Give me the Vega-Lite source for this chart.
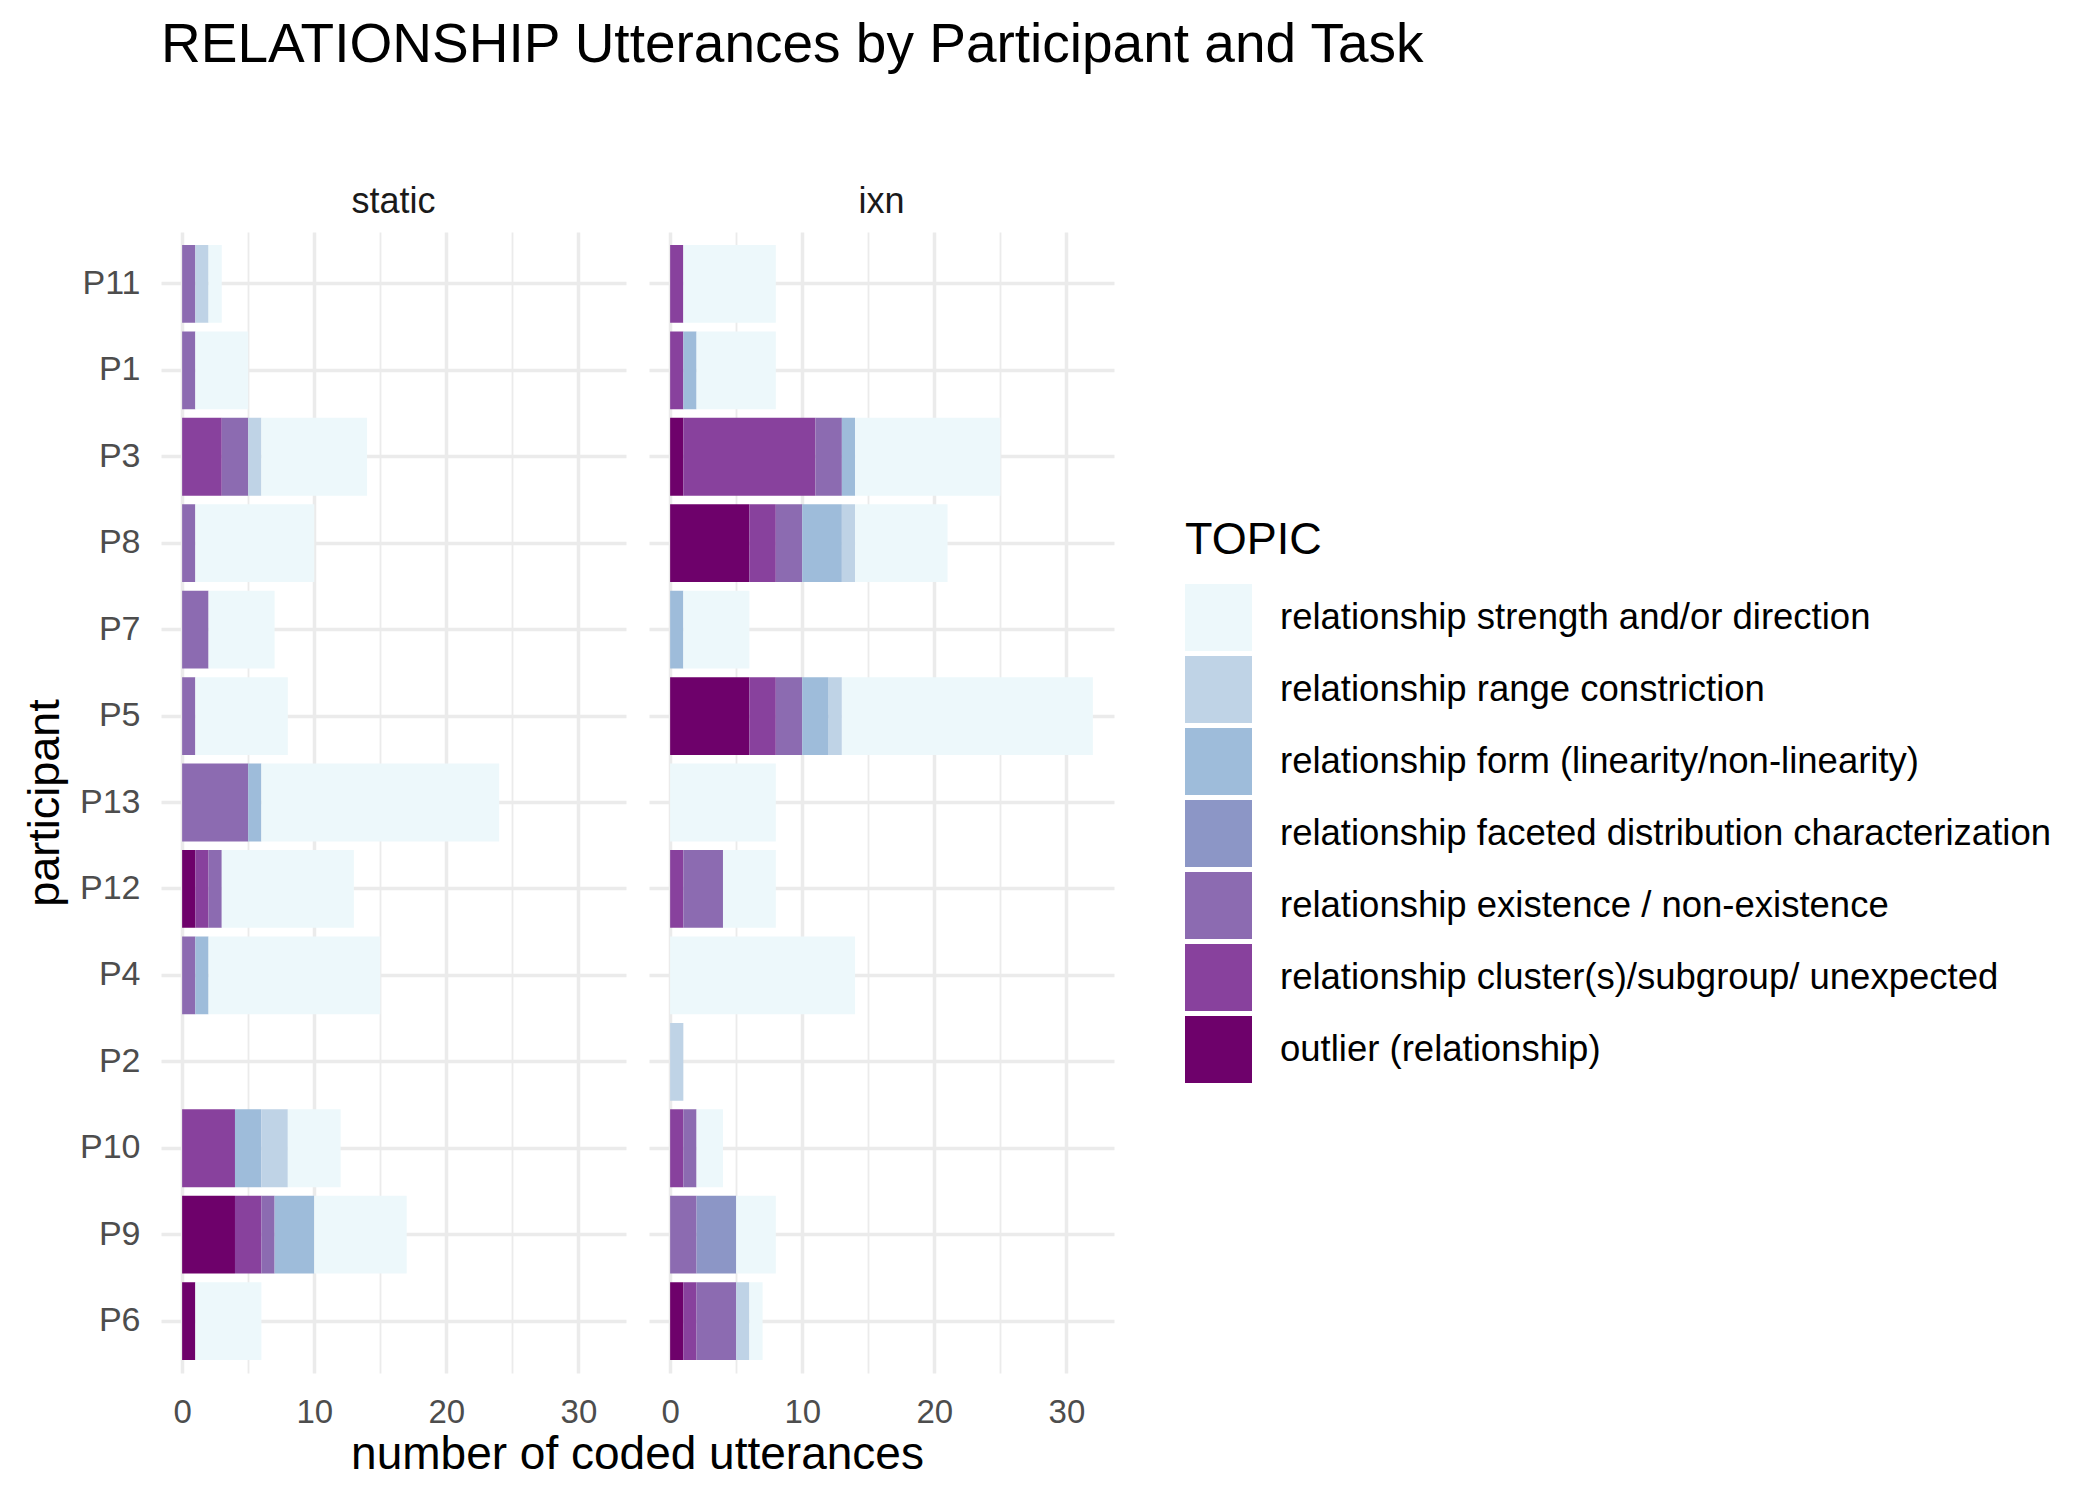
{
  "$schema": "https://vega.github.io/schema/vega-lite/v6.json",
  "background": "white",
  "padding": {"left": 22, "top": 18, "right": 20, "bottom": 20},
  "title": {"text": "RELATIONSHIP Utterances by Participant and Task", "anchor": "start", "frame": "group", "fontSize": 55, "fontWeight": "normal", "font": "Liberation Sans", "color": "black", "offset": 110, "dx": 0},
  "data": {"values": [
    {"p": "P11", "task": "static", "topic": "relationship existence / non-existence", "n": 1},
    {"p": "P11", "task": "static", "topic": "relationship range constriction", "n": 1},
    {"p": "P11", "task": "static", "topic": "relationship strength and/or direction", "n": 1},
    {"p": "P1", "task": "static", "topic": "relationship existence / non-existence", "n": 1},
    {"p": "P1", "task": "static", "topic": "relationship strength and/or direction", "n": 4},
    {"p": "P3", "task": "static", "topic": "relationship cluster(s)/subgroup/ unexpected", "n": 3},
    {"p": "P3", "task": "static", "topic": "relationship existence / non-existence", "n": 2},
    {"p": "P3", "task": "static", "topic": "relationship range constriction", "n": 1},
    {"p": "P3", "task": "static", "topic": "relationship strength and/or direction", "n": 8},
    {"p": "P8", "task": "static", "topic": "relationship existence / non-existence", "n": 1},
    {"p": "P8", "task": "static", "topic": "relationship strength and/or direction", "n": 9},
    {"p": "P7", "task": "static", "topic": "relationship existence / non-existence", "n": 2},
    {"p": "P7", "task": "static", "topic": "relationship strength and/or direction", "n": 5},
    {"p": "P5", "task": "static", "topic": "relationship existence / non-existence", "n": 1},
    {"p": "P5", "task": "static", "topic": "relationship strength and/or direction", "n": 7},
    {"p": "P13", "task": "static", "topic": "relationship existence / non-existence", "n": 5},
    {"p": "P13", "task": "static", "topic": "relationship form (linearity/non-linearity)", "n": 1},
    {"p": "P13", "task": "static", "topic": "relationship strength and/or direction", "n": 18},
    {"p": "P12", "task": "static", "topic": "outlier (relationship)", "n": 1},
    {"p": "P12", "task": "static", "topic": "relationship cluster(s)/subgroup/ unexpected", "n": 1},
    {"p": "P12", "task": "static", "topic": "relationship existence / non-existence", "n": 1},
    {"p": "P12", "task": "static", "topic": "relationship strength and/or direction", "n": 10},
    {"p": "P4", "task": "static", "topic": "relationship existence / non-existence", "n": 1},
    {"p": "P4", "task": "static", "topic": "relationship form (linearity/non-linearity)", "n": 1},
    {"p": "P4", "task": "static", "topic": "relationship strength and/or direction", "n": 13},
    {"p": "P10", "task": "static", "topic": "relationship cluster(s)/subgroup/ unexpected", "n": 4},
    {"p": "P10", "task": "static", "topic": "relationship form (linearity/non-linearity)", "n": 2},
    {"p": "P10", "task": "static", "topic": "relationship range constriction", "n": 2},
    {"p": "P10", "task": "static", "topic": "relationship strength and/or direction", "n": 4},
    {"p": "P9", "task": "static", "topic": "outlier (relationship)", "n": 4},
    {"p": "P9", "task": "static", "topic": "relationship cluster(s)/subgroup/ unexpected", "n": 2},
    {"p": "P9", "task": "static", "topic": "relationship existence / non-existence", "n": 1},
    {"p": "P9", "task": "static", "topic": "relationship form (linearity/non-linearity)", "n": 3},
    {"p": "P9", "task": "static", "topic": "relationship strength and/or direction", "n": 7},
    {"p": "P6", "task": "static", "topic": "outlier (relationship)", "n": 1},
    {"p": "P6", "task": "static", "topic": "relationship strength and/or direction", "n": 5},
    {"p": "P11", "task": "ixn", "topic": "relationship cluster(s)/subgroup/ unexpected", "n": 1},
    {"p": "P11", "task": "ixn", "topic": "relationship strength and/or direction", "n": 7},
    {"p": "P1", "task": "ixn", "topic": "relationship cluster(s)/subgroup/ unexpected", "n": 1},
    {"p": "P1", "task": "ixn", "topic": "relationship form (linearity/non-linearity)", "n": 1},
    {"p": "P1", "task": "ixn", "topic": "relationship strength and/or direction", "n": 6},
    {"p": "P3", "task": "ixn", "topic": "outlier (relationship)", "n": 1},
    {"p": "P3", "task": "ixn", "topic": "relationship cluster(s)/subgroup/ unexpected", "n": 10},
    {"p": "P3", "task": "ixn", "topic": "relationship existence / non-existence", "n": 2},
    {"p": "P3", "task": "ixn", "topic": "relationship form (linearity/non-linearity)", "n": 1},
    {"p": "P3", "task": "ixn", "topic": "relationship strength and/or direction", "n": 11},
    {"p": "P8", "task": "ixn", "topic": "outlier (relationship)", "n": 6},
    {"p": "P8", "task": "ixn", "topic": "relationship cluster(s)/subgroup/ unexpected", "n": 2},
    {"p": "P8", "task": "ixn", "topic": "relationship existence / non-existence", "n": 2},
    {"p": "P8", "task": "ixn", "topic": "relationship form (linearity/non-linearity)", "n": 3},
    {"p": "P8", "task": "ixn", "topic": "relationship range constriction", "n": 1},
    {"p": "P8", "task": "ixn", "topic": "relationship strength and/or direction", "n": 7},
    {"p": "P7", "task": "ixn", "topic": "relationship form (linearity/non-linearity)", "n": 1},
    {"p": "P7", "task": "ixn", "topic": "relationship strength and/or direction", "n": 5},
    {"p": "P5", "task": "ixn", "topic": "outlier (relationship)", "n": 6},
    {"p": "P5", "task": "ixn", "topic": "relationship cluster(s)/subgroup/ unexpected", "n": 2},
    {"p": "P5", "task": "ixn", "topic": "relationship existence / non-existence", "n": 2},
    {"p": "P5", "task": "ixn", "topic": "relationship form (linearity/non-linearity)", "n": 2},
    {"p": "P5", "task": "ixn", "topic": "relationship range constriction", "n": 1},
    {"p": "P5", "task": "ixn", "topic": "relationship strength and/or direction", "n": 19},
    {"p": "P13", "task": "ixn", "topic": "relationship strength and/or direction", "n": 8},
    {"p": "P12", "task": "ixn", "topic": "relationship cluster(s)/subgroup/ unexpected", "n": 1},
    {"p": "P12", "task": "ixn", "topic": "relationship existence / non-existence", "n": 3},
    {"p": "P12", "task": "ixn", "topic": "relationship strength and/or direction", "n": 4},
    {"p": "P4", "task": "ixn", "topic": "relationship strength and/or direction", "n": 14},
    {"p": "P2", "task": "ixn", "topic": "relationship range constriction", "n": 1},
    {"p": "P10", "task": "ixn", "topic": "relationship cluster(s)/subgroup/ unexpected", "n": 1},
    {"p": "P10", "task": "ixn", "topic": "relationship existence / non-existence", "n": 1},
    {"p": "P10", "task": "ixn", "topic": "relationship strength and/or direction", "n": 2},
    {"p": "P9", "task": "ixn", "topic": "relationship existence / non-existence", "n": 2},
    {"p": "P9", "task": "ixn", "topic": "relationship faceted distribution characterization", "n": 3},
    {"p": "P9", "task": "ixn", "topic": "relationship strength and/or direction", "n": 3},
    {"p": "P6", "task": "ixn", "topic": "outlier (relationship)", "n": 1},
    {"p": "P6", "task": "ixn", "topic": "relationship cluster(s)/subgroup/ unexpected", "n": 1},
    {"p": "P6", "task": "ixn", "topic": "relationship existence / non-existence", "n": 3},
    {"p": "P6", "task": "ixn", "topic": "relationship range constriction", "n": 1},
    {"p": "P6", "task": "ixn", "topic": "relationship strength and/or direction", "n": 1}
  ]},
  "bounds": "flush",
  "spacing": 23,
  "resolve": {"scale": {"color": "shared"}},
  "hconcat": [
    {
      "width": 465,
      "height": 1141,
      "title": {"text": "static", "anchor": "middle", "frame": "group", "fontSize": 36, "fontWeight": "normal", "color": "#1A1A1A", "offset": 11},
      "transform": [{"filter": "datum.task === 'static'"}],
      "mark": {"type": "bar"},
      "encoding": {
        "y": {"field": "p", "type": "nominal",
          "scale": {"domain": ["P11","P1","P3","P8","P7","P5","P13","P12","P4","P2","P10","P9","P6"], "paddingInner": 0.1, "paddingOuter": 0.15},
          "axis": {"title": "participant", "titleFontSize": 45, "titlePadding": 12, "labelFontSize": 34, "labelPadding": 21, "grid": true, "bandPosition": 0.5}},
        "x": {"field": "n", "type": "quantitative", "stack": "zero",
          "scale": {"domain": [-1.6, 33.6], "nice": false, "zero": false},
          "axis": {"title": "number of coded utterances", "titleX": 476, "titleY": 95, "titleAlign": "center", "titleBaseline": "alphabetic", "titleFontSize": 46, "values": [0,5,10,15,20,25,30], "labelExpr": "datum.value % 10 === 0 ? datum.label : ''", "labelFontSize": 33, "labelPadding": 23, "gridWidth": {"condition": {"test": "datum.value % 10 === 0", "value": 3.5}, "value": 1.8}}},
        "color": {"field": "topic", "type": "nominal",
          "scale": {"domain": ["relationship strength and/or direction","relationship range constriction","relationship form (linearity/non-linearity)","relationship faceted distribution characterization","relationship existence / non-existence","relationship cluster(s)/subgroup/ unexpected","outlier (relationship)"],
            "range": ["#edf8fb","#bfd3e6","#9ebcda","#8c96c6","#8c6bb1","#88419d","#6e016b"]},
          "legend": {"title": "TOPIC", "orient": "none", "legendX": 1024, "legendY": 286}},
        "order": {"field": "topic", "sort": "ascending"}
      }
    },
    {
      "width": 465,
      "height": 1141,
      "title": {"text": "ixn", "anchor": "middle", "frame": "group", "fontSize": 36, "fontWeight": "normal", "color": "#1A1A1A", "offset": 11},
      "transform": [{"filter": "datum.task === 'ixn'"}],
      "mark": {"type": "bar"},
      "encoding": {
        "y": {"field": "p", "type": "nominal",
          "scale": {"domain": ["P11","P1","P3","P8","P7","P5","P13","P12","P4","P2","P10","P9","P6"], "paddingInner": 0.1, "paddingOuter": 0.15},
          "axis": {"title": null, "labels": false, "grid": true, "bandPosition": 0.5}},
        "x": {"field": "n", "type": "quantitative", "stack": "zero",
          "scale": {"domain": [-1.6, 33.6], "nice": false, "zero": false},
          "axis": {"title": null, "values": [0,5,10,15,20,25,30], "labelExpr": "datum.value % 10 === 0 ? datum.label : ''", "labelFontSize": 33, "labelPadding": 23, "gridWidth": {"condition": {"test": "datum.value % 10 === 0", "value": 3.5}, "value": 1.8}}},
        "color": {"field": "topic", "type": "nominal",
          "scale": {"domain": ["relationship strength and/or direction","relationship range constriction","relationship form (linearity/non-linearity)","relationship faceted distribution characterization","relationship existence / non-existence","relationship cluster(s)/subgroup/ unexpected","outlier (relationship)"],
            "range": ["#edf8fb","#bfd3e6","#9ebcda","#8c96c6","#8c6bb1","#88419d","#6e016b"]},
          "legend": {"title": "TOPIC", "orient": "none", "legendX": 1024, "legendY": 286}},
        "order": {"field": "topic", "sort": "ascending"}
      }
    }
  ],
  "config": {
    "font": "Liberation Sans",
    "view": {"stroke": null},
    "axis": {"domain": false, "ticks": false, "tickSize": 0, "gridColor": "#EBEBEB", "gridWidth": 3.5, "labelColor": "#4D4D4D", "titleColor": "black", "titleFontWeight": "normal", "labelFont": "Liberation Sans", "titleFont": "Liberation Sans"},
    "legend": {"titleFontSize": 45, "titleFontWeight": "normal", "titleColor": "black", "titlePadding": 21, "labelFontSize": 36.5, "labelColor": "black", "labelLimit": 1000, "symbolType": "square", "symbolSize": 4489, "symbolStrokeWidth": 0, "symbolOpacity": 1, "rowPadding": 5, "labelOffset": 28},
    "title": {"font": "Liberation Sans"}
  }
}
